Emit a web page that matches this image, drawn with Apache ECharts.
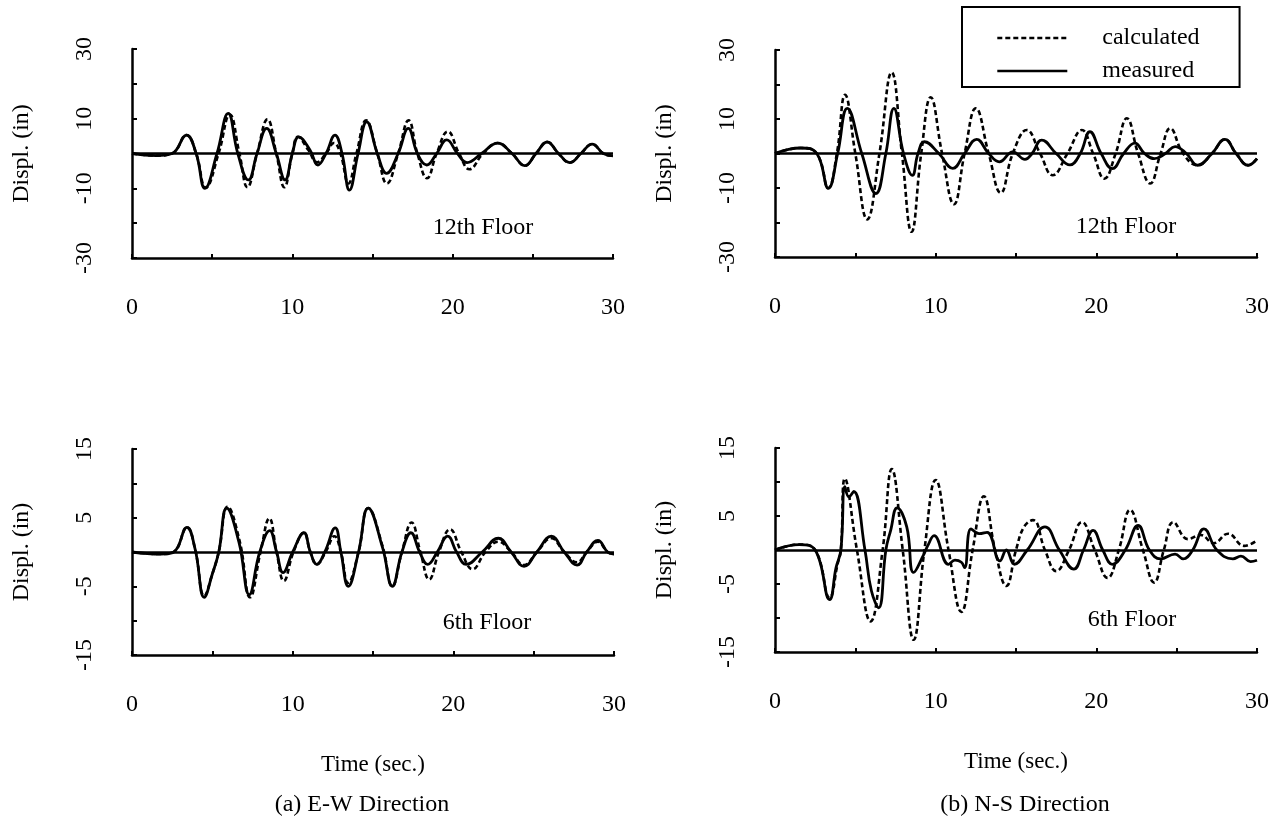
<!DOCTYPE html>
<html>
<head>
<meta charset="utf-8">
<script src="https://cdn.jsdelivr.net/npm/echarts@6/dist/echarts.min.js"></script>
<style>
  html, body { margin: 0; padding: 0; background: #fff; }
  #chart { width: 1283px; height: 830px; }
</style>
</head>
<body>
<div id="chart"></div>
<script>
// [time (sec), displacement (in)]
const ew12Measured = [[0,0],[1.5,-0.6],[2.5,0],[3.4,5.3],[4.0,0],[4.55,-10.0],[5.3,0],[6.0,11.5],[6.6,0],[7.26,-7.6],[7.8,0],[8.4,7.2],[9.0,0],[9.55,-7.6],[10.0,0],[10.4,4.8],[11.1,1.0],[11.6,-3.3],[12.1,0],[12.66,5.3],[13.1,0],[13.56,-10.5],[14.1,0],[14.64,9.1],[15.3,0],[15.88,-5.7],[16.6,0],[17.23,7.2],[17.8,0],[18.38,-3.3],[19.0,0],[19.63,3.9],[20.3,0],[20.9,-2.6],[21.8,0],[22.8,3.0],[23.7,0],[24.5,-3.5],[25.2,0],[25.9,3.3],[26.6,0],[27.3,-2.6],[28.0,0],[28.7,2.7],[29.4,0],[30,-0.7]];
const ew12Calculated = [[0,0],[1.5,-0.6],[2.5,0],[3.4,5.3],[4.0,0],[4.6,-9.8],[5.4,0],[6.1,11.2],[6.7,0],[7.2,-9.7],[7.8,0],[8.45,9.8],[9.0,0],[9.5,-9.7],[10.0,0],[10.35,4.8],[11.0,1.0],[11.55,-2.5],[12.1,0],[12.6,3.0],[13.0,0],[13.5,-8.6],[14.0,0],[14.6,9.5],[15.3,0],[15.9,-8.6],[16.6,0],[17.25,9.5],[17.8,0],[18.4,-7.1],[19.0,0],[19.7,6.3],[20.4,0],[21.05,-4.5],[21.9,0],[22.8,3.0],[23.7,0],[24.5,-3.5],[25.2,0],[25.9,3.3],[26.6,0],[27.3,-2.6],[28.0,0],[28.7,2.7],[29.4,0],[30,-0.7]];

const ns12Measured = [[0,0],[1.6,1.6],[2.6,0],[3.32,-10.1],[3.9,0],[4.5,13.1],[5.4,0],[6.28,-11.6],[6.9,0],[7.4,13.1],[8.0,0],[8.55,-6.3],[8.9,0],[9.3,3.4],[10.2,0],[11.06,-4.3],[11.8,0],[12.55,4.1],[13.3,0],[13.96,-2.4],[14.8,0.5],[15.56,-1.7],[16.0,0],[16.6,3.9],[17.5,0],[18.36,-3.3],[19.0,0],[19.6,6.3],[20.3,0],[21.0,-4.4],[21.7,0],[22.4,3.0],[23.0,0],[23.6,-1.5],[24.3,0],[24.9,2.0],[25.6,0],[26.3,-3.4],[27.2,0],[28.0,4.1],[28.7,0],[29.45,-3.4],[30,-1.5]];
const ns12Calculated = [[0,0],[1.6,1.6],[2.6,0],[3.32,-10.0],[3.85,0],[4.36,17.0],[5.0,0],[5.74,-19.1],[6.5,0],[7.26,23.5],[7.9,0],[8.5,-22.7],[9.1,0],[9.69,16.3],[10.4,0],[11.14,-14.7],[11.8,0],[12.5,13.1],[13.3,0],[14.05,-11.4],[14.8,0],[15.67,6.8],[16.5,0],[17.28,-6.3],[18.2,0],[19.1,6.8],[19.8,0],[20.5,-7.3],[21.2,0],[21.9,10.2],[22.6,0],[23.35,-8.7],[24.0,0],[24.6,7.3],[25.4,0],[26.3,-3.4],[27.2,0],[28.0,4.1],[28.7,0],[29.45,-3.4],[30,-1.5]];

const ew6Measured = [[0,0],[1.8,-0.3],[2.6,0],[3.42,3.6],[3.93,0.4],[4.5,-6.6],[5.0,-3.2],[5.4,0],[5.9,6.4],[6.66,1.4],[7.3,-6.2],[7.95,0],[8.57,3.1],[9.0,0],[9.4,-3.0],[10.0,0],[10.7,2.8],[11.1,0],[11.5,-1.8],[12.0,0],[12.65,3.5],[13.0,0],[13.46,-5.0],[14.1,0],[14.7,6.4],[15.6,0.6],[16.2,-5.0],[16.8,0],[17.36,2.8],[17.9,0],[18.4,-1.8],[19.0,0],[19.65,2.3],[20.2,0],[20.8,-1.8],[21.8,0],[22.8,2.0],[23.6,0],[24.4,-2.1],[25.2,0],[26.1,2.3],[26.9,0],[27.7,-1.9],[28.3,0],[29.0,1.7],[29.6,0],[30,-0.3]];
const ew6Calculated = [[0,0],[1.8,-0.3],[2.6,0],[3.42,3.6],[3.93,0.4],[4.5,-6.4],[5.0,-3.2],[5.4,0],[5.95,6.6],[6.7,1.6],[7.35,-6.6],[8.0,0],[8.55,4.9],[9.0,0],[9.45,-4.2],[10.05,0],[10.7,2.8],[11.1,0],[11.5,-1.8],[12.05,0],[12.6,2.3],[13.0,0],[13.45,-4.5],[14.1,0],[14.7,6.4],[15.6,0.8],[16.2,-5.0],[16.8,0],[17.4,4.3],[17.95,0],[18.5,-4.0],[19.1,0],[19.8,3.3],[20.5,0],[21.2,-2.5],[22.0,0],[22.8,1.5],[23.6,0],[24.4,-1.9],[25.2,0],[26.1,2.0],[26.9,0],[27.7,-1.5],[28.3,0],[29.0,1.5],[29.6,0],[30,-0.3]];

const ns6Measured = [[0,0],[1.5,0.8],[2.5,0],[3.4,-7.3],[3.8,-2.6],[4.1,0],[4.35,9.3],[4.6,7.8],[4.9,8.6],[5.6,0],[6.0,-6.0],[6.45,-8.5],[6.9,0],[7.2,2.9],[7.6,6.2],[8.2,3.4],[8.63,-3.3],[9.27,-0.6],[9.5,0.6],[9.9,2.1],[10.8,-2.1],[11.2,-1.5],[11.6,-1.8],[11.8,-2.6],[12.2,3.1],[12.7,2.4],[13.2,2.6],[14.0,-1.6],[14.4,0],[14.9,-2.1],[15.7,0],[16.8,3.4],[17.7,0],[18.6,-2.8],[19.2,0],[19.8,2.9],[20.4,0],[21.0,-2.1],[21.8,0],[22.6,3.6],[23.3,0],[24.0,-1.3],[24.9,-0.6],[25.4,-1.3],[26.0,0],[26.7,3.1],[27.5,0],[28.5,-1.3],[29.0,-0.9],[29.6,-1.7],[30,-1.5]];
const ns6Calculated = [[0,0],[1.5,0.8],[2.5,0],[3.4,-7.0],[3.9,-2.0],[4.1,0],[4.35,10.5],[5.1,0],[5.95,-10.5],[6.7,0],[7.27,11.9],[7.95,0],[8.63,-13.2],[9.3,0],[10.0,10.3],[10.8,0],[11.6,-9.1],[12.3,0],[13.0,7.9],[13.7,0],[14.4,-5.3],[15.0,0],[15.5,3.4],[16.05,4.4],[16.8,0],[17.5,-3.1],[18.3,0],[19.1,4.1],[19.9,0],[20.7,-4.1],[21.4,0],[22.1,5.9],[22.9,0],[23.6,-4.8],[24.2,0],[24.8,4.1],[25.7,1.6],[26.5,2.2],[27.3,1.0],[28.2,2.4],[29.2,0.6],[30,1.4]];

const topRange = [-30, 30];
const bottomRange = [-15, 15];
const seriesNames = ['calculated', 'measured'];

const FONT = '"Liberation Serif", "Times New Roman", serif';
const chart = echarts.init(document.getElementById('chart'));

const grids = [
  { left: 132, top: 49, width: 481, height: 209 },
  { left: 775, top: 50, width: 482, height: 207 },
  { left: 132, top: 449, width: 482, height: 206 },
  { left: 775, top: 448, width: 482, height: 204 }
];

function xAxisFor(i, showName) {
  return {
    type: 'value', gridIndex: i, min: 0, max: 30, interval: 5,
    axisLine: { show: true, onZero: false, lineStyle: { color: '#000', width: 2.5 } },
    axisTick: { show: true, inside: true, length: 4, lineStyle: { color: '#000', width: 2 } },
    axisLabel: { margin: 38, fontSize: 24, color: '#000', fontFamily: FONT,
      formatter: v => (v % 10 === 0 ? String(v) : '') },
    splitLine: { show: false },
    name: showName ? 'Time (sec.)' : '',
    nameLocation: 'middle', nameGap: 98,
    nameTextStyle: { fontSize: 23, color: '#000', fontFamily: FONT }
  };
}

function yAxisFor(i, range) {
  const step = (range[1] - range[0]) / 6;
  return {
    type: 'value', gridIndex: i, min: range[0], max: range[1], interval: step,
    axisLine: { show: true, onZero: false, lineStyle: { color: '#000', width: 2.5 } },
    axisTick: { show: true, inside: true, length: 5, lineStyle: { color: '#000', width: 2 } },
    axisLabel: { rotate: 90, margin: 35, fontSize: 24, color: '#000', fontFamily: FONT,
      formatter: v => ((v - range[0]) % (2 * step) === 0 ? String(v) : '') },
    splitLine: { show: false },
    name: 'Displ. (in)', nameLocation: 'middle', nameGap: 98, nameRotate: 90,
    nameTextStyle: { fontSize: 24, color: '#000', fontFamily: FONT }
  };
}

function pair(i, calc, meas) {
  return [
    { name: seriesNames[0], type: 'line', xAxisIndex: i, yAxisIndex: i, data: calc,
      smooth: 0.45, symbol: 'none', showSymbol: false, z: 3,
      lineStyle: { color: '#000', width: 2.6, type: [5, 3] }, itemStyle: { color: '#000' } },
    { name: seriesNames[1], type: 'line', xAxisIndex: i, yAxisIndex: i, data: meas,
      smooth: 0.45, symbol: 'none', showSymbol: false, z: 4,
      lineStyle: { color: '#000', width: 2.8, type: 'solid' }, itemStyle: { color: '#000' },
      markLine: { silent: true, symbol: ['none', 'none'], label: { show: false },
        lineStyle: { color: '#000', width: 2.6, type: 'solid' }, data: [{ yAxis: 0 }] } }
  ];
}

function label(text, x, y, size) {
  return { type: 'text', x: x, y: y, z: 10,
    style: { text: text, fill: '#000', font: (size || 24) + 'px ' + FONT,
      align: 'center', verticalAlign: 'middle', textAlign: 'center', textVerticalAlign: 'middle' } };
}

const option = {
  animation: false,
  backgroundColor: '#fff',
  grid: grids,
  xAxis: [xAxisFor(0, false), xAxisFor(1, false), xAxisFor(2, true), xAxisFor(3, true)],
  yAxis: [yAxisFor(0, topRange), yAxisFor(1, topRange), yAxisFor(2, bottomRange), yAxisFor(3, bottomRange)],
  legend: {
    data: seriesNames, orient: 'vertical', left: 962, top: 7,
    padding: [19, 40, 4, 34], itemGap: 9, itemWidth: 70, itemHeight: 14,
    borderColor: '#000', borderWidth: 2, borderRadius: 0, backgroundColor: '#fff',
    selectedMode: false,
    itemStyle: { color: 'rgba(0,0,0,0)', borderWidth: 0, opacity: 0 },
    lineStyle: { color: '#000', width: 2.6 },
    textStyle: { fontSize: 24, color: '#000', fontFamily: FONT, padding: [0, 0, 0, 30] }
  },
  graphic: [
    label('12th Floor', 483, 228),
    label('12th Floor', 1126, 227),
    label('6th Floor', 487, 623),
    label('6th Floor', 1132, 620),
    label('(a) E-W Direction', 362, 805),
    label('(b) N-S Direction', 1025, 805)
  ],
  series: [].concat(
    pair(0, ew12Calculated, ew12Measured),
    pair(1, ns12Calculated, ns12Measured),
    pair(2, ew6Calculated, ew6Measured),
    pair(3, ns6Calculated, ns6Measured)
  )
};

chart.setOption(option);
</script>
</body>
</html>
